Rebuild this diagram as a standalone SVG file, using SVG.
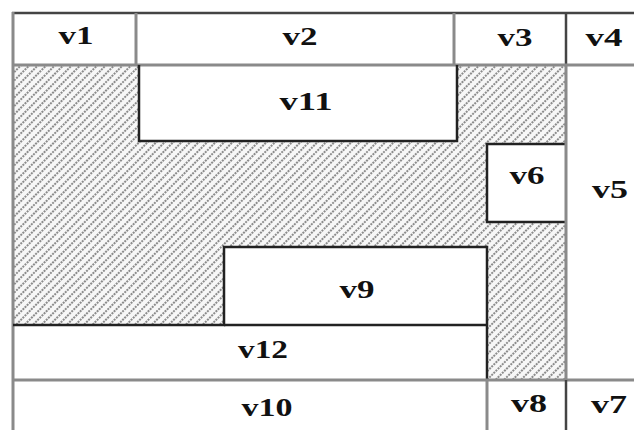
<svg xmlns="http://www.w3.org/2000/svg" width="634" height="430" viewBox="0 0 634 430">
<defs>
<pattern id="hatch" width="6" height="6" patternUnits="userSpaceOnUse" patternTransform="rotate(45)">
<rect width="6" height="6" fill="#f7f7f7"/>
<line x1="1" y1="0" x2="1" y2="6" stroke="#444" stroke-width="1.2" stroke-dasharray="2 1"/>
</pattern>
</defs>
<style>
.lbl{font-family:"Liberation Serif","Times New Roman",serif;font-weight:bold;font-size:25px;fill:#111;text-anchor:middle}
.g{stroke:#8a8a8a;stroke-width:3;fill:none}
.d{stroke:#444;stroke-width:2.5;fill:none}
.k{stroke:#222;stroke-width:2.5;fill:none}
</style>
<rect width="634" height="430" fill="#fff"/>
<g id="free-space">
<path d="M13,65 H139 V141 H457 V65 H566 V380 H487 V222 H566 V144 H487 V247 H224 V325 H13 Z" fill="url(#hatch)"/>
</g>
<g id="v1"><rect x="13" y="13" width="123" height="52" fill="none"/><text class="lbl" x="76" y="44" textLength="35" lengthAdjust="spacingAndGlyphs">v1</text></g>
<g id="v2"><rect x="136" y="13" width="318" height="52" fill="none"/><text class="lbl" x="300" y="45" textLength="35" lengthAdjust="spacingAndGlyphs">v2</text></g>
<g id="v3"><rect x="454" y="13" width="112" height="52" fill="none"/><text class="lbl" x="515" y="46" textLength="35" lengthAdjust="spacingAndGlyphs">v3</text></g>
<g id="v4"><rect x="566" y="13" width="68" height="52" fill="none"/><text class="lbl" x="604" y="46" textLength="37" lengthAdjust="spacingAndGlyphs">v4</text></g>
<g id="v11"><rect x="139" y="65" width="318" height="76" fill="#fff"/><text class="lbl" x="306" y="110" textLength="53" lengthAdjust="spacingAndGlyphs">v11</text></g>
<g id="v6"><rect x="487" y="144" width="79" height="78" fill="#fff"/><text class="lbl" x="527" y="184" textLength="35" lengthAdjust="spacingAndGlyphs">v6</text></g>
<g id="v5"><rect x="566" y="65" width="68" height="315" fill="none"/><text class="lbl" x="610" y="198" textLength="36" lengthAdjust="spacingAndGlyphs">v5</text></g>
<g id="v9"><rect x="224" y="247" width="263" height="78" fill="#fff"/><text class="lbl" x="357" y="298" textLength="35" lengthAdjust="spacingAndGlyphs">v9</text></g>
<g id="v12"><rect x="13" y="325" width="474" height="55" fill="#fff"/><text class="lbl" x="263" y="358" textLength="50" lengthAdjust="spacingAndGlyphs">v12</text></g>
<g id="v10"><rect x="13" y="380" width="474" height="50" fill="none"/><text class="lbl" x="267" y="416" textLength="51" lengthAdjust="spacingAndGlyphs">v10</text></g>
<g id="v8"><rect x="487" y="380" width="79" height="50" fill="none"/><text class="lbl" x="529" y="412" textLength="36" lengthAdjust="spacingAndGlyphs">v8</text></g>
<g id="v7"><rect x="566" y="380" width="68" height="50" fill="none"/><text class="lbl" x="609" y="413" textLength="36" lengthAdjust="spacingAndGlyphs">v7</text></g>
<g id="borders">
<line class="d" x1="12" y1="13" x2="634" y2="13"/>
<line class="g" x1="13" y1="12" x2="13" y2="430"/>
<line class="g" x1="136" y1="13" x2="136" y2="65"/>
<line class="g" x1="454" y1="13" x2="454" y2="65"/>
<line class="d" x1="566" y1="13" x2="566" y2="65"/>
<line class="g" x1="13" y1="65" x2="634" y2="65"/>
<path class="k" d="M139,65 V141 H457 V65"/>
<path class="k" d="M566,144 H487 V222 H566"/>
<line class="g" x1="566" y1="65" x2="566" y2="380"/>
<path class="k" d="M13,325 H224 V247 H487 V380"/>
<line class="k" x1="224" y1="325" x2="487" y2="325"/>
<line class="g" x1="13" y1="380" x2="634" y2="380"/>
<line class="g" x1="487" y1="380" x2="487" y2="430"/>
<line class="d" x1="566" y1="380" x2="566" y2="430"/>
</g>
</svg>
